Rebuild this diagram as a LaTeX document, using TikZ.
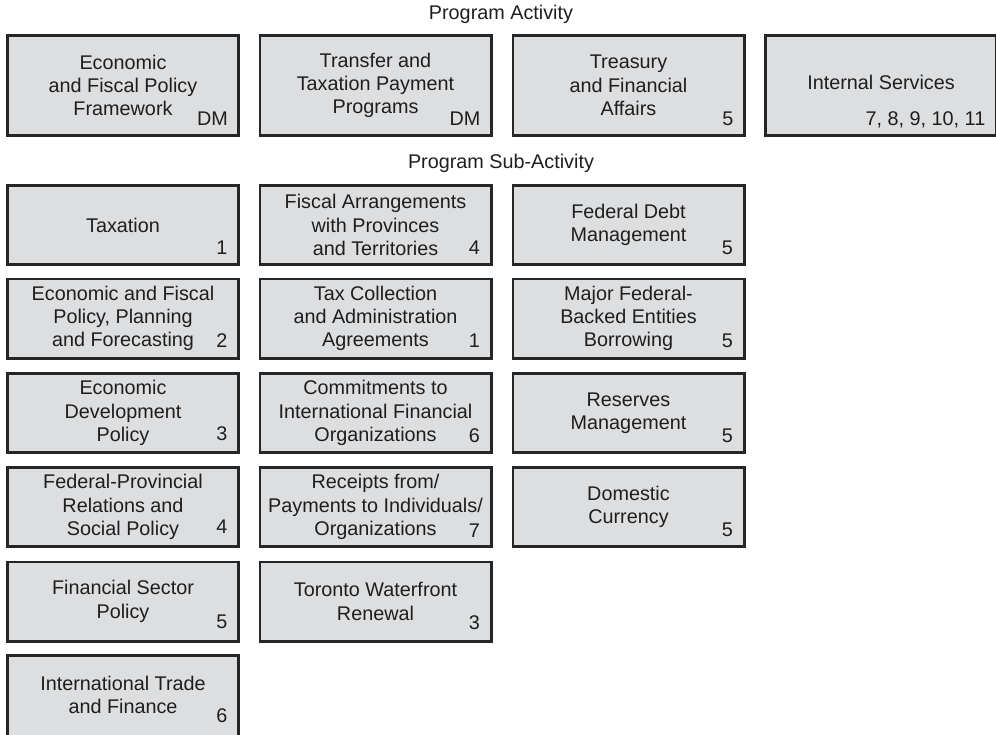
\documentclass[tikz,border=0pt]{standalone}
\usepackage{fontspec}
\setmainfont{Liberation Sans}
\usepackage{tikz}
\usetikzlibrary{calc}
\definecolor{boxfill}{RGB}{221,222,224}
\definecolor{boxline}{RGB}{38,38,38}
\definecolor{txt}{RGB}{30,30,30}

\begin{document}
\begin{tikzpicture}[x=1pt,y=-1pt,
    font=\fontsize{19.8}{23.3}\selectfont, text=txt,
    activity/.style={draw=boxline,fill=boxfill,line width=2.8pt,align=center,
      inner sep=0pt,minimum width=231.2pt,minimum height=100.2pt},
    subactivity/.style={activity,minimum height=79.2pt},
    num/.style={anchor=base east,inner sep=0pt},
    heading/.style={inner sep=0pt}]
    \useasboundingbox (0,0) rectangle (996,734);
    % Program activity
    \node[heading] (pahead) at (501,14) {Program Activity};
    \node[activity] (efpf) at (123,85.5) {Economic\\and Fiscal Policy\\Framework};
    \node[activity] (ttpp) at (375.5,85.5) {Transfer and\\Taxation Payment\\Programs};
    \node[activity] (tfa) at (628.5,85.5) {Treasury\\and Financial\\Affairs};
    \node[activity] (is) at (881,85.5) {};
    \node[heading] (islabel) at (881,82) {Internal Services};
    \node[num] (efpfn) at ($(efpf.south east)+(-12,-12)$) {DM};
    \node[num] (ttppn) at ($(ttpp.south east)+(-12,-12)$) {DM};
    \node[num] (tfan) at ($(tfa.south east)+(-12,-12)$) {5};
    \node[num] (isn) at ($(is.south east)+(-12.5,-12)$) {7, 8, 9, 10, 11};
    % Program sub-activity
    \node[heading] (sahead) at (501,163) {Program Sub-Activity};
    % first column
    \node[subactivity] (tax) at (123,225) {Taxation};
    \node[subactivity] (efpp) at (123,318.5) {Economic and Fiscal\\Policy, Planning\\and Forecasting};
    \node[subactivity] (edp) at (123,413) {Economic\\Development\\Policy};
    \node[subactivity] (fprsp) at (123,507) {Federal-Provincial\\Relations and\\Social Policy};
    \node[subactivity] (fsp) at (123,601.5) {Financial Sector\\Policy};
    \node[subactivity,minimum height=86pt] (itf) at (123,698.4) {};
    \node[heading,align=center] (itflabel) at (123,695) {International Trade\\and Finance};
    \node[num] (taxn) at ($(tax.south east)+(-12.5,-12)$) {1};
    \node[num] (efppn) at ($(efpp.south east)+(-12.5,-12)$) {2};
    \node[num] (edpn) at ($(edp.south east)+(-12.5,-14)$) {3};
    \node[num] (fprspn) at ($(fprsp.south east)+(-12.5,-15)$) {4};
    \node[num] (fspn) at ($(fsp.south east)+(-12.5,-14)$) {5};
    \node[num] (itfn) at ($(itf.south east)+(-12.5,-20.5)$) {6};
    % second column
    \node[subactivity] (fapt) at (375.5,225) {Fiscal Arrangements\\with Provinces\\and Territories};
    \node[subactivity] (tcaa) at (375.5,318.5) {Tax Collection\\and Administration\\Agreements};
    \node[subactivity] (cifo) at (375.5,413) {Commitments to\\International Financial\\Organizations};
    \node[subactivity] (rpio) at (375.5,507) {Receipts from/\\Payments to Individuals/\\Organizations};
    \node[subactivity] (twr) at (375.5,601.5) {Toronto Waterfront\\Renewal};
    \node[num] (faptn) at ($(fapt.south east)+(-12.5,-12)$) {4};
    \node[num] (tcaan) at ($(tcaa.south east)+(-12.5,-12)$) {1};
    \node[num] (cifon) at ($(cifo.south east)+(-12.5,-12)$) {6};
    \node[num] (rpion) at ($(rpio.south east)+(-12.5,-11)$) {7};
    \node[num] (twrn) at ($(twr.south east)+(-12.5,-13)$) {3};
    % third column
    \node[subactivity] (fdm) at (628.5,225) {Federal Debt\\Management};
    \node[subactivity] (mfbe) at (628.5,318.5) {Major Federal-\\Backed Entities\\Borrowing};
    \node[subactivity] (rm) at (628.5,413) {Reserves\\Management};
    \node[subactivity] (dc) at (628.5,507) {Domestic\\Currency};
    \node[num] (fdmn) at ($(fdm.south east)+(-12.5,-12)$) {5};
    \node[num] (mfben) at ($(mfbe.south east)+(-12.5,-12)$) {5};
    \node[num] (rmn) at ($(rm.south east)+(-12.5,-12)$) {5};
    \node[num] (dcn) at ($(dc.south east)+(-12.5,-12)$) {5};
  \end{tikzpicture}
\end{document}
